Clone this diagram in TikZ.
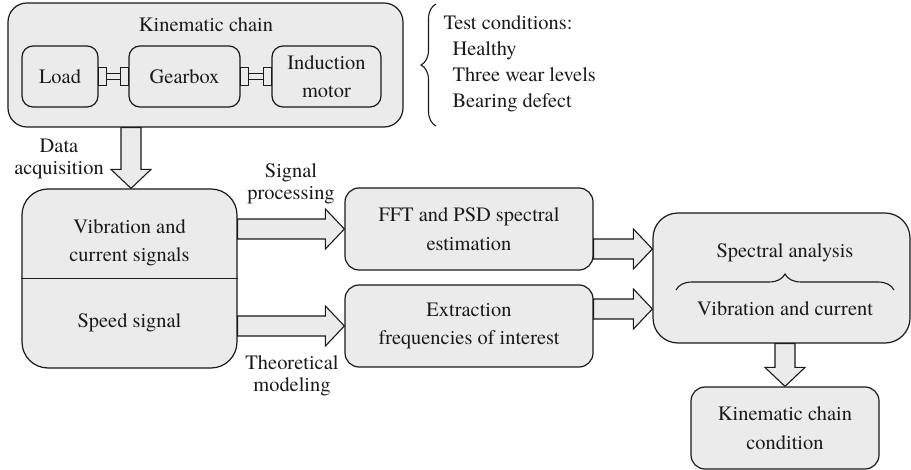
\documentclass[tikz,border=0pt]{standalone}
\usepackage{fontspec}
\IfFontExistsTF{texgyretermes-regular.otf}
  {\newfontfamily\diagfont{texgyretermes-regular.otf}}
  {\newcommand\diagfont{\rmfamily}}
\usetikzlibrary{calc,decorations.pathreplacing}

\definecolor{boxfill}{HTML}{EBEBEB}
\definecolor{ink}{HTML}{1A1A1A}

\begin{document}
\begin{tikzpicture}[x=1bp,y=-1bp,
  every node/.style={font=\diagfont\fontsize{20.5}{28.5}\selectfont, text=ink},
  box/.style={draw=ink, line width=1.2bp, fill=boxfill, rounded corners=#1,
    align=center, inner sep=0pt},
  box/.default=12bp,
  lbl/.style={align=center, font=\diagfont\fontsize{20.5}{22}\selectfont},
  couple/.style={draw=ink, line width=1.1bp, fill=boxfill},
  shaft/.style={draw=ink, line width=1.1bp},
  curly/.style={draw=ink, line width=1.1bp, decorate,
    decoration={brace, amplitude=#1, aspect=0.5}},
  % hollow block arrow pointing right
  fatR/.style={draw=ink, line width=1.1bp, fill=boxfill,
    to path={let \p1=(\tikztostart), \p2=(\tikztotarget) in
      (\x1,\y1+10bp) -- (\x2-19bp,\y1+10bp) -- (\x2-19bp,\y1+20bp) -- (\x2,\y1)
      -- (\x2-19bp,\y1-20bp) -- (\x2-19bp,\y1-10bp) -- (\x1,\y1-10bp) -- cycle}},
  % hollow block arrow pointing down
  fatD/.style={draw=ink, line width=1.1bp, fill=boxfill,
    to path={let \p1=(\tikztostart), \p2=(\tikztotarget) in
      (\x1-10bp,\y1) -- (\x1-10bp,\y2+19bp) -- (\x1-20bp,\y2+19bp) -- (\x1,\y2)
      -- (\x1+20bp,\y2+19bp) -- (\x1+10bp,\y2+19bp) -- (\x1+10bp,\y1) -- cycle}},
]
\useasboundingbox (0,0) rectangle (911,470);

% ---- kinematic chain ----
\node[box=19bp, minimum width=395bp, minimum height=124bp] (kc) at (205.5,65) {};
\node[anchor=base] (kctitle) at (206,32) {Kinematic chain};
\node[box=11bp, minimum width=76bp, minimum height=61bp] (load) at (60,76.5) {Load};
\node[box=11bp, minimum width=111bp, minimum height=61bp] (gear) at (184.5,76.5) {Gearbox};
\node[box=11bp, minimum width=109bp, minimum height=61bp] (motor) at (326.5,76.5) {Induction\\motor};

% couplings between the machines
\draw[shaft] ($(load.east)+(7.5,-3)$) -- ($(gear.west)+(-8,-3)$);
\draw[shaft] ($(load.east)+(7.5,3)$) -- ($(gear.west)+(-8,3)$);
\draw[couple] ($(load.east)+(-0.5,-9)$) rectangle ($(load.east)+(7.5,9)$);
\draw[couple] ($(gear.west)+(-8,-9)$) rectangle ($(gear.west)+(0.5,9)$);
\draw[shaft] ($(gear.east)+(7.5,-3)$) -- ($(motor.west)+(-8,-3)$);
\draw[shaft] ($(gear.east)+(7.5,3)$) -- ($(motor.west)+(-8,3)$);
\draw[couple] ($(gear.east)+(-0.5,-9)$) rectangle ($(gear.east)+(7.5,9)$);
\draw[couple] ($(motor.west)+(-8,-9)$) rectangle ($(motor.west)+(0.5,9)$);

% ---- test conditions ----
\coordinate (brbot) at (436,126);
\coordinate (brtop) at (436,4);
\draw[curly=15bp] (brbot) -- (brtop);
\node[anchor=base west] (tc)  at (440,30)  {Test conditions:};
\node[anchor=base west] (tc1) at (449,56)  {Healthy};
\node[anchor=base west] (tc2) at (449,82)  {Three wear levels};
\node[anchor=base west] (tc3) at (449,108) {Bearing defect};

% ---- acquired signals ----
\node[box=26bp, minimum width=215bp, minimum height=179bp] (vib) at (129.5,278.5) {};
\draw[shaft] (vib.west) -- (vib.east);
\node[align=center] (vibtxt) at (129.5,242.5) {Vibration and\\current signals};
\node[anchor=base] (speed) at (129.5,328) {Speed signal};

\coordinate (vibin) at ($(vib.north)+(1.5,0)$);
\draw[fatD] (vibin |- kc.south) to (vibin);
\node[lbl] (daq) at (59,159) {Data\\acquisition};

% ---- processing ----
\node[box=14bp, minimum width=248bp, minimum height=82bp] (fft) at (469,229) {FFT and PSD spectral\\estimation};
\node[box=14bp, minimum width=248bp, minimum height=82bp] (ext) at (469,326) {Extraction\\frequencies of interest};

\draw[fatR] (vib.east |- fft.west) to (fft.west);
\draw[fatR] (vib.east |- ext.west) to (ext.west);
\node[lbl] (sigproc) at (291,184) {Signal\\processing};
\node[lbl] (theo) at (292,376) {Theoretical\\modeling};

% ---- spectral analysis ----
\node[box=25bp, minimum width=257bp, minimum height=130bp] (spec) at (781.5,278) {};
\node[anchor=base] (spectxt) at (785,258) {Spectral analysis};
\coordinate (brl) at (676,290);
\coordinate (brr) at (894,290);
\draw[curly=16bp] (brl) -- (brr);
\node[anchor=base] (vctxt) at (785,316) {Vibration and current};

\coordinate (specup) at ($(spec.west)+(0,-29)$);
\coordinate (speclo) at ($(spec.west)+(0,31)$);
\draw[fatR] (fft.east |- specup) to (specup);
\draw[fatR] (ext.east |- speclo) to (speclo);

% ---- result ----
\node[box=14bp, minimum width=188bp, minimum height=82bp] (cond) at (785,428) {Kinematic chain\\condition};
\draw[fatD] (cond.north |- spec.south) to (cond.north);

\end{tikzpicture}
\end{document}
